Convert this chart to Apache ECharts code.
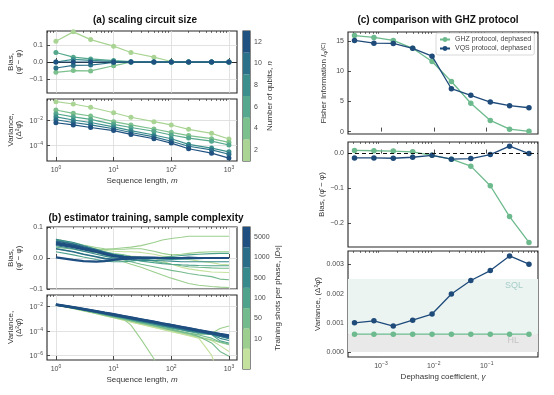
<!DOCTYPE html>
<html><head><meta charset="utf-8">
<script src="https://cdn.jsdelivr.net/npm/echarts@6/dist/echarts.min.js"></script>
<style>html,body{margin:0;padding:0;background:#fff}#c{width:554px;height:395px}</style>
</head><body><div id="c"></div>
<script>
// ---------------- data ----------------
// (a) scaling circuit size
const aM = [1, 2, 4, 10, 20, 50, 100, 200, 500, 1000];
const aQubits = [2, 4, 6, 8, 10, 12];
const aBias = [
  [0.12, 0.175, 0.13, 0.092, 0.055, 0.028, 0.003, 0, 0, 0],
  [-0.06, -0.05, -0.052, -0.022, 0, 0, 0, 0, 0, 0],
  [0.055, 0.028, 0.018, 0.008, 0.002, 0, 0, 0, 0, 0],
  [0.0, 0.015, 0.01, 0.004, 0, 0, 0, 0, 0, 0],
  [-0.035, -0.02, -0.018, -0.003, 0, 0, 0, 0, 0, 0],
  [0, 0, 0, 0, 0, 0, 0, 0, 0, 0]
];
const aVar = [
  [0.295, 0.19, 0.105, 0.038, 0.0166, 0.0074, 0.004, 0.00178, 0.00085, 0.0003],
  [0.063, 0.034, 0.021, 0.0074, 0.004, 0.0019, 0.00102, 0.00056, 0.00032, 0.000162],
  [0.0316, 0.0178, 0.0112, 0.00447, 0.00251, 0.00126, 0.00063, 0.000355, 0.0002, 0.0001],
  [0.0178, 0.01, 0.0063, 0.00282, 0.00141, 0.00063, 0.000316, 0.000112, 5.6e-5, 2.8e-5],
  [0.0105, 0.0063, 0.004, 0.002, 0.001, 0.000447, 0.0002, 7.9e-5, 4e-5, 1.8e-5],
  [0.006, 0.004, 0.0025, 0.00141, 0.0007, 0.000316, 0.000141, 5e-5, 2.2e-5, 8.9e-6]
];
const aTicksX = [1, 10, 100, 1000];

// (b) estimator training, sample complexity
const bM = [1, 2, 3, 5, 7, 10, 15, 20, 30, 50, 70, 100, 150, 200, 300, 500, 700, 1000];
const bShotTicks = ['10', '50', '100', '500', '1000', '5000'];
const bBand = [0, 0, 1, 1, 1, 2, 2, 3, 3, 4, 4, 5, 5, 6, 6, 6];
const bBias = [
  [0.05,0.04,0.03,0.02,0.015,0.01,0.008,0.006,0.004,0.0,-0.01,-0.02,-0.03,-0.035,-0.04,-0.045,-0.046,-0.047],
  [0.055,0.045,0.037,0.03,0.025,0.022,0.02,0.02,0.018,0.012,0.006,0.004,0.0,-0.005,-0.01,-0.015,-0.02,-0.022],
  [0.045,0.035,0.03,0.028,0.027,0.03,0.033,0.035,0.04,0.05,0.058,0.063,0.067,0.07,0.07,0.07,0.07,0.07],
  [0.03,0.02,0.012,0.004,0,-0.005,-0.012,-0.02,-0.03,-0.045,-0.055,-0.065,-0.075,-0.082,-0.088,-0.092,-0.094,-0.095],
  [0.06,0.05,0.042,0.034,0.03,0.028,0.028,0.03,0.03,0.022,0.015,0.01,0.012,0.015,0.018,0.02,0.02,0.02],
  [0.05,0.04,0.032,0.025,0.02,0.014,0.01,0.005,-0.002,-0.01,-0.015,-0.02,-0.025,-0.028,-0.03,-0.032,-0.033,-0.033],
  [0.035,0.028,0.022,0.016,0.01,0.002,-0.006,-0.012,-0.02,-0.028,-0.034,-0.04,-0.045,-0.05,-0.055,-0.06,-0.068,-0.07],
  [0.058,0.046,0.035,0.022,0.014,0.006,0.0,-0.004,-0.01,-0.015,-0.018,-0.02,-0.022,-0.023,-0.024,-0.025,-0.025,-0.025],
  [0.02,0.01,0.003,-0.005,-0.01,-0.012,-0.012,-0.01,-0.006,-0.002,0.002,0.005,0.008,0.01,0.012,0.014,0.015,0.015],
  [0.06,0.05,0.04,0.028,0.02,0.012,0.006,0.002,0,-0.002,-0.004,-0.005,-0.004,-0.003,-0.002,-0.001,0,0],
  [0.04,0.03,0.022,0.012,0.006,0,-0.004,-0.006,-0.008,-0.008,-0.009,-0.01,-0.012,-0.012,-0.012,-0.012,-0.012,-0.012],
  [0.055,0.045,0.036,0.026,0.018,0.01,0.005,0.003,0.002,0.001,0,-0.001,0,0,0.001,0,0,0],
  [0.03,0.02,0.012,0.004,-0.002,-0.004,-0.004,-0.003,-0.002,-0.001,0,0,0,0,0,0,0,0],
  [0.045,0.035,0.028,0.02,0.012,0.006,0.002,0.001,0,0,0,0,0,0,0,0,0,0],
  [0.05,0.04,0.032,0.022,0.015,0.008,0.004,0.002,0.001,0.001,0,0,0,0.001,0,0,0,0],
  [0.002,-0.006,-0.01,-0.012,-0.01,-0.006,-0.003,-0.001,0,0,0,0,0,0,0,0,0,0]
];
const bVar = [
  [1.4e-2,7e-3,4.6e-3,2.7e-3,1.8e-3,1.2e-3,7.8e-4,5.5e-4,3.5e-4,2e-4,1.35e-4,9e-5,6e-5,4.3e-5,2.7e-5,1.6e-5,6e-6,2e-6],
  [1.3e-2,6.8e-3,4.5e-3,2.6e-3,1.8e-3,1.2e-3,7.5e-4,5.3e-4,3.4e-4,1.9e-4,1.3e-4,8.5e-5,5.5e-5,4e-5,2.5e-5,1e-6,1e-8,1e-8],
  [1.5e-2,7.8e-3,5.1e-3,3e-3,2.1e-3,1.4e-3,9.3e-4,6.8e-4,4.4e-4,2.6e-4,1.8e-4,1.25e-4,8.5e-5,6.5e-5,5e-5,6e-5,1.6e-4,2.5e-4],
  [1.4e-2,7.2e-3,4.8e-3,2.8e-3,1.9e-3,1.3e-3,9e-4,3e-4,2e-5,5e-7,1e-8,1e-8,1e-8,1e-8,1e-8,1e-8,1e-8,1e-8],
  [1.45e-2,7.6e-3,5e-3,2.9e-3,2e-3,1.35e-3,9e-4,6.5e-4,4.2e-4,2.4e-4,1.6e-4,1.1e-4,7e-5,5e-5,3.2e-5,1.8e-5,1.1e-5,7e-6],
  [1.5e-2,8e-3,5.4e-3,3.2e-3,2.2e-3,1.5e-3,1e-3,7.2e-4,4.8e-4,2.9e-4,2e-4,1.4e-4,9e-5,6.5e-5,4.5e-5,2.5e-5,1.2e-5,8e-6],
  [1.4e-2,7.5e-3,5e-3,3e-3,2.1e-3,1.45e-3,9.5e-4,7e-4,4.6e-4,2.7e-4,1.8e-4,1.2e-4,8e-5,6e-5,3.5e-5,1e-5,2e-6,8e-7],
  [1.5e-2,8.3e-3,5.7e-3,3.5e-3,2.5e-3,1.75e-3,1.2e-3,9e-4,6e-4,3.7e-4,2.6e-4,1.8e-4,1.25e-4,9e-5,6e-5,5e-5,1.5e-5,1e-5],
  [1.4e-2,7.8e-3,5.3e-3,3.3e-3,2.3e-3,1.6e-3,1.1e-3,8e-4,5.5e-4,3.4e-4,2.4e-4,1.7e-4,1.2e-4,1e-4,7e-5,6e-5,5.5e-5,4e-5],
  [1.5e-2,8.5e-3,6e-3,3.8e-3,2.7e-3,1.9e-3,1.3e-3,9.5e-4,6.5e-4,4e-4,2.9e-4,2.1e-4,1.5e-4,1.1e-4,7.5e-5,5e-5,2.4e-5,1.6e-5],
  [1.4e-2,8e-3,5.5e-3,3.4e-3,2.4e-3,1.7e-3,1.2e-3,8.8e-4,6e-4,3.7e-4,2.6e-4,1.9e-4,1.3e-4,9.5e-5,8e-5,5e-5,3.5e-5,2.2e-5],
  [1.5e-2,8.8e-3,6.2e-3,4e-3,2.9e-3,2.1e-3,1.45e-3,1.1e-3,7.8e-4,4.9e-4,3.5e-4,2.5e-4,1.8e-4,1.35e-4,9.5e-5,6e-5,4.5e-5,3e-5],
  [1.4e-2,8.2e-3,5.8e-3,3.7e-3,2.7e-3,1.9e-3,1.35e-3,1e-3,7e-4,4.4e-4,3.2e-4,2.3e-4,1.6e-4,1.2e-4,8.5e-5,5.5e-5,3.8e-5,2.6e-5],
  [1.5e-2,9e-3,6.5e-3,4.2e-3,3.1e-3,2.3e-3,1.6e-3,1.25e-3,8.8e-4,5.6e-4,4.1e-4,3e-4,2.1e-4,1.6e-4,1.1e-4,7e-5,5.2e-5,3.8e-5],
  [1.6e-2,9.5e-3,6.8e-3,4.4e-3,3.2e-3,2.4e-3,1.7e-3,1.3e-3,9.2e-4,5.9e-4,4.3e-4,3.1e-4,2.2e-4,1.7e-4,1.15e-4,7.5e-5,5.6e-5,4.2e-5],
  [1.4e-2,8.5e-3,6.1e-3,3.9e-3,2.9e-3,2.1e-3,1.5e-3,1.15e-3,8.2e-4,5.2e-4,3.8e-4,2.7e-4,1.9e-4,1.45e-4,1e-4,6.3e-5,4.6e-5,3.3e-5]
];

// (c) comparison with GHZ protocol
const cGamma = [3.16e-4, 7.36e-4, 1.71e-3, 3.98e-3, 9.26e-3, 2.15e-2, 5.01e-2, 0.117, 0.271, 0.631];
const ghzFisher = [15.9, 15.6, 15.1, 13.8, 11.6, 8.3, 4.7, 1.85, 0.4, 0.05];
const vqsFisher = [15.1, 14.65, 14.6, 13.8, 12.5, 7.1, 6.0, 4.9, 4.3, 3.95];
const ghzBias = [0.009, 0.008, 0.007, 0.005, -0.005, -0.016, -0.036, -0.092, -0.18, -0.254];
const vqsBias = [-0.0126, -0.0126, -0.0134, -0.0106, -0.005, -0.016, -0.0143, -0.003, 0.021, 0.0];
const ghzVar = [0.00061, 0.00061, 0.00061, 0.00061, 0.00061, 0.00061, 0.00061, 0.00061, 0.00061, 0.00061];
const vqsVar = [0.00100, 0.00107, 0.00089, 0.00109, 0.0013, 0.00199, 0.00245, 0.00279, 0.00329, 0.00301];
const sqlLimit = 0.0025;
const hlLimit = 0.00061;
const cTicksX = [1e-3, 1e-2, 1e-1];
const seriesNames = ['GHZ protocol, dephased', 'VQS protocol, dephased'];

// ---------------- styling ----------------
const FONT = '"Liberation Sans", Arial, "DejaVu Sans", sans-serif';
const TXT = '#4a4a4a';
const GRIDC = '#dadada';
const aColors = ['#a9d493', '#7cc08d', '#55a88d', '#3a8f8c', '#2b7189', '#1f5181'];
const bColors = ['#c4e19d', '#9ccf8f', '#73ba8c', '#4fa28c', '#378a8c', '#2a6d89', '#1f4e80'];
const GHZC = '#6cba8d';
const VQSC = '#1f4b7b';

function pow10Label(v) {
  const e = Math.round(Math.log10(v));
  return '{b|10}{s|' + (e < 0 ? '−' : '') + Math.abs(e) + '}';
}
const powRich = {
  b: {fontSize: 7, color: TXT, fontFamily: FONT, verticalAlign: 'bottom'},
  s: {fontSize: 5, color: TXT, fontFamily: FONT, verticalAlign: 'bottom', padding: [0, 0, 3.5, 0]}
};
function minors(lo, hi) {
  const out = [];
  for (let e = -6; e <= 4; e++) for (let k = 2; k <= 9; k++) {
    const v = k * Math.pow(10, e);
    if (v > lo && v < hi) out.push(v);
  }
  return out;
}
function fmtSigned(d) { return v => (v < -1e-12 ? '−' : '') + Math.abs(v).toFixed(d); }

const gridBox = {show: true, borderColor: '#262626', borderWidth: 1.1, backgroundColor: 'rgba(0,0,0,0)', containLabel: false, outerBoundsMode: 'none'};
const grids = [
  {left: 47, top: 31, width: 190, height: 62},
  {left: 47, top: 99, width: 190, height: 62},
  {left: 47, top: 227, width: 190, height: 62},
  {left: 47, top: 295, width: 190, height: 65},
  {left: 348, top: 32, width: 190, height: 102},
  {left: 348, top: 142, width: 190, height: 105},
  {left: 348, top: 251, width: 190, height: 106},
  {left: 243, top: 31, width: 7, height: 130},
  {left: 243, top: 227, width: 7, height: 142}
].map(g => Object.assign({}, gridBox, g));

const nameStyle = {fontSize: 8, color: '#333', fontFamily: FONT,
  rich: {it: {fontStyle: 'italic', fontSize: 8, color: '#333', fontFamily: FONT},
         sub: {fontSize: 6, color: '#333', fontFamily: FONT, verticalAlign: 'bottom'},
         sup: {fontSize: 6, color: '#333', fontFamily: FONT, verticalAlign: 'top'}}};

function xMajor(gi, min, max, ticks, showLabel, split, name) {
  return {type: 'log', logBase: 10, gridIndex: gi, min, max,
    axisLine: {show: false},
    axisTick: {show: true, inside: true, length: 4, customValues: ticks, lineStyle: {color: '#222', width: 0.8}},
    axisLabel: {show: showLabel, customValues: ticks, formatter: pow10Label, rich: powRich, color: TXT, fontSize: 7, fontFamily: FONT, margin: 4},
    splitLine: {show: split, lineStyle: {color: GRIDC, width: 0.8}},
    name: name || '', nameLocation: 'middle', nameGap: 16, nameTextStyle: nameStyle};
}
function xMinor(gi, min, max) {
  return {type: 'log', logBase: 10, gridIndex: gi, min, max,
    axisLine: {show: false},
    axisTick: {show: true, inside: true, length: 2, customValues: minors(min, max), lineStyle: {color: '#222', width: 0.6}},
    axisLabel: {show: false}, splitLine: {show: false}};
}
function yAxis(gi, type, min, max, ticks, fmt, split, name, gap) {
  const o = {type, gridIndex: gi, min, max,
    axisLine: {show: false},
    axisTick: {show: true, inside: true, length: 3, customValues: ticks, lineStyle: {color: '#222', width: 0.8}},
    axisLabel: {customValues: ticks, formatter: fmt, color: TXT, fontSize: 7, fontFamily: FONT, margin: 4},
    splitLine: {show: split, lineStyle: {color: GRIDC, width: 0.8}},
    name, nameLocation: 'middle', nameRotate: 90, nameGap: gap, nameTextStyle: nameStyle};
  if (type === 'log') { o.logBase = 10; o.axisLabel.rich = powRich; }
  return o;
}

const aXmin = 0.7, aXmax = 1380;
const cXmin = 2.38e-4, cXmax = 0.935;

const xAxes = [
  xMajor(0, aXmin, aXmax, aTicksX, false, true),
  xMajor(1, aXmin, aXmax, aTicksX, true, true, 'Sequence length, {it|m}'),
  xMajor(2, aXmin, aXmax, aTicksX, false, true),
  xMajor(3, aXmin, aXmax, aTicksX, true, true, 'Sequence length, {it|m}'),
  xMajor(4, cXmin, cXmax, cTicksX, false, false),
  xMajor(5, cXmin, cXmax, cTicksX, false, false),
  xMajor(6, cXmin, cXmax, cTicksX, true, false, 'Dephasing coefficient, {it|γ}'),
  xMinor(0, aXmin, aXmax), xMinor(1, aXmin, aXmax), xMinor(2, aXmin, aXmax), xMinor(3, aXmin, aXmax),
  xMinor(4, cXmin, cXmax), xMinor(5, cXmin, cXmax), xMinor(6, cXmin, cXmax),
  {type: 'value', gridIndex: 7, min: 0, max: 1, show: false},
  {type: 'value', gridIndex: 8, min: 0, max: 1, show: false}
];

const yAxes = [
  yAxis(0, 'value', -0.18, 0.18, [-0.1, 0, 0.1], fmtSigned(1), true, 'Bias,\n(φ̂ − φ)', 24),
  yAxis(1, 'log', 5.2e-6, 0.48, [1e-2, 1e-4], pow10Label, true, 'Variance,\n(Δ²φ̂)', 24),
  yAxis(2, 'value', -0.1, 0.1, [-0.1, 0, 0.1], fmtSigned(1), true, 'Bias,\n(φ̂ − φ)', 24),
  yAxis(3, 'log', 3.9e-7, 0.093, [1e-2, 1e-4, 1e-6], pow10Label, true, 'Variance,\n(Δ²φ̂)', 24),
  yAxis(4, 'value', -0.4, 16.5, [0, 5, 10, 15], v => String(v), false, 'Fisher Information {it|I}{sub|φ}{sup|(C)}', 20),
  yAxis(5, 'value', -0.267, 0.033, [-0.2, -0.1, 0], fmtSigned(1), false, 'Bias, (φ̂ − φ)', 21),
  yAxis(6, 'value', -0.00017, 0.00346, [0, 0.001, 0.002, 0.003], v => v.toFixed(3), false, 'Variance, (Δ²φ̂)', 26),
  {type: 'value', gridIndex: 7, min: 1, max: 13, position: 'right',
    axisLine: {show: false}, splitLine: {show: false},
    axisTick: {show: true, length: 2, customValues: aQubits, lineStyle: {color: '#222', width: 0.8}},
    axisLabel: {customValues: aQubits, color: TXT, fontSize: 7, fontFamily: FONT, margin: 4},
    name: 'Number of qubits, {it|n}', nameLocation: 'middle', nameRotate: 90, nameGap: 15, nameTextStyle: nameStyle},
  {type: 'value', gridIndex: 8, min: 0, max: 7, position: 'right',
    axisLine: {show: false}, splitLine: {show: false},
    axisTick: {show: true, length: 2, customValues: [1.5, 2.5, 3.5, 4.5, 5.5, 6.5], lineStyle: {color: '#222', width: 0.8}},
    axisLabel: {customValues: [1.5, 2.5, 3.5, 4.5, 5.5, 6.5], formatter: v => bShotTicks[Math.round(v - 1.5)], color: TXT, fontSize: 7, fontFamily: FONT, margin: 4},
    name: 'Training shots per phase, |{it|D}{sub|θ}|', nameLocation: 'middle', nameRotate: 90, nameGap: 18, nameTextStyle: nameStyle}
];

const series = [];
// (a)
aQubits.forEach((n, i) => {
  const s = {type: 'line', xAxisIndex: 0, yAxisIndex: 0, data: aM.map((m, j) => [m, aBias[i][j]]),
    symbol: 'circle', symbolSize: 5, color: aColors[i], lineStyle: {width: 1.2, color: aColors[i]}, itemStyle: {color: aColors[i]}, silent: true, z: 3 + i};
  if (i === aQubits.length - 1) s.markLine = {silent: true, symbol: 'none', label: {show: false}, lineStyle: {color: '#2a2a2a', width: 1, type: 'solid'}, data: [{yAxis: 0}]};
  series.push(s);
  series.push({type: 'line', xAxisIndex: 1, yAxisIndex: 1, data: aM.map((m, j) => [m, aVar[i][j]]),
    symbol: 'circle', symbolSize: 5, color: aColors[i], lineStyle: {width: 1.2, color: aColors[i]}, itemStyle: {color: aColors[i]}, silent: true, z: 3 + i});
});
// (b)
bBand.forEach((band, i) => {
  const w = band === 6 ? 2.2 : (band === 5 ? 1.6 : 1.1);
  series.push({type: 'line', xAxisIndex: 2, yAxisIndex: 2, data: bM.map((m, j) => [m, bBias[i][j]]),
    showSymbol: false, lineStyle: {width: w, color: bColors[band]}, silent: true, z: 3 + band});
  series.push({type: 'line', xAxisIndex: 3, yAxisIndex: 3, data: bM.map((m, j) => [m, bVar[i][j]]),
    showSymbol: false, lineStyle: {width: w, color: bColors[band]}, silent: true, z: 3 + band});
});
// colorbars
function cbRender(colors) {
  return function (params, api) {
    const p0 = api.coord([0, api.value(1)]);
    const p1 = api.coord([1, api.value(2)]);
    return {type: 'rect', shape: {x: p0[0], y: p1[1], width: p1[0] - p0[0], height: p0[1] - p1[1]}, style: {fill: colors[params.dataIndex]}};
  };
}
series.push({type: 'custom', xAxisIndex: 14, yAxisIndex: 7, renderItem: cbRender(aColors), silent: true,
  encode: {x: 0, y: [1, 2]}, data: aQubits.map(n => [0.5, n - 1, n + 1])});
series.push({type: 'custom', xAxisIndex: 15, yAxisIndex: 8, renderItem: cbRender(bColors), silent: true,
  encode: {x: 0, y: [1, 2]}, data: bColors.map((c, i) => [0.5, i, i + 1])});
// (c)
function cLine(name, color, xi, yi, vals, extra) {
  return Object.assign({type: 'line', name, xAxisIndex: xi, yAxisIndex: yi, data: cGamma.map((g, j) => [g, vals[j]]),
    symbol: 'circle', symbolSize: 5.5, color, lineStyle: {width: 1.3, color}, itemStyle: {color}, silent: true, z: 4}, extra || {});
}
series.push(cLine(seriesNames[0], GHZC, 4, 4, ghzFisher));
series.push(cLine(seriesNames[1], VQSC, 4, 4, vqsFisher, {z: 5}));
series.push(cLine(seriesNames[0], GHZC, 5, 5, ghzBias));
series.push(cLine(seriesNames[1], VQSC, 5, 5, vqsBias, {z: 5, markLine: {silent: true, symbol: 'none', label: {show: false}, z: 6,
  lineStyle: {color: '#111', width: 1.2, type: [4, 3]}, data: [{yAxis: 0}]}}));
series.push(cLine(seriesNames[0], GHZC, 6, 6, ghzVar, {markArea: {silent: true, data: [
  [{yAxis: 0, itemStyle: {color: '#e9e9e9'}, label: {show: true, position: 'insideRight', formatter: 'HL', color: '#c4c4c4', fontSize: 9, fontFamily: FONT, offset: [-14, -3]}}, {yAxis: hlLimit}],
  [{yAxis: hlLimit, itemStyle: {color: '#ecf4f2'}, label: {show: true, position: 'insideTopRight', formatter: 'SQL', color: '#a6cdc7', fontSize: 9, fontFamily: FONT, offset: [-10, -3]}}, {yAxis: sqlLimit}]
]}}));
series.push(cLine(seriesNames[1], VQSC, 6, 6, vqsVar, {z: 5}));

const option = {
  animation: false,
  backgroundColor: '#fff',
  grid: grids, xAxis: xAxes, yAxis: yAxes, series,
  legend: {data: seriesNames, left: 436, top: 33, orient: 'vertical', itemWidth: 10, itemHeight: 6, itemGap: 2,
    padding: [3, 3, 3, 3], borderColor: '#cfcfcf', borderWidth: 0.8, borderRadius: 2, backgroundColor: '#fff',
    textStyle: {fontSize: 7, color: '#444', fontFamily: FONT}, selectedMode: false},
  graphic: [
    {type: 'text', x: 145, y: 20, style: {text: '(a) scaling circuit size', fontSize: 10, fontWeight: 'bold', fontFamily: FONT, fill: '#111', align: 'center', verticalAlign: 'middle'}},
    {type: 'text', x: 146, y: 218, style: {text: '(b) estimator training, sample complexity', fontSize: 10, fontWeight: 'bold', fontFamily: FONT, fill: '#111', align: 'center', verticalAlign: 'middle'}},
    {type: 'text', x: 438, y: 20, style: {text: '(c) comparison with GHZ protocol', fontSize: 10, fontWeight: 'bold', fontFamily: FONT, fill: '#111', align: 'center', verticalAlign: 'middle'}}
  ]
};
const chart = echarts.init(document.getElementById('c'), null, {renderer: 'canvas', width: 554, height: 395});
chart.setOption(option);
</script></body></html>
